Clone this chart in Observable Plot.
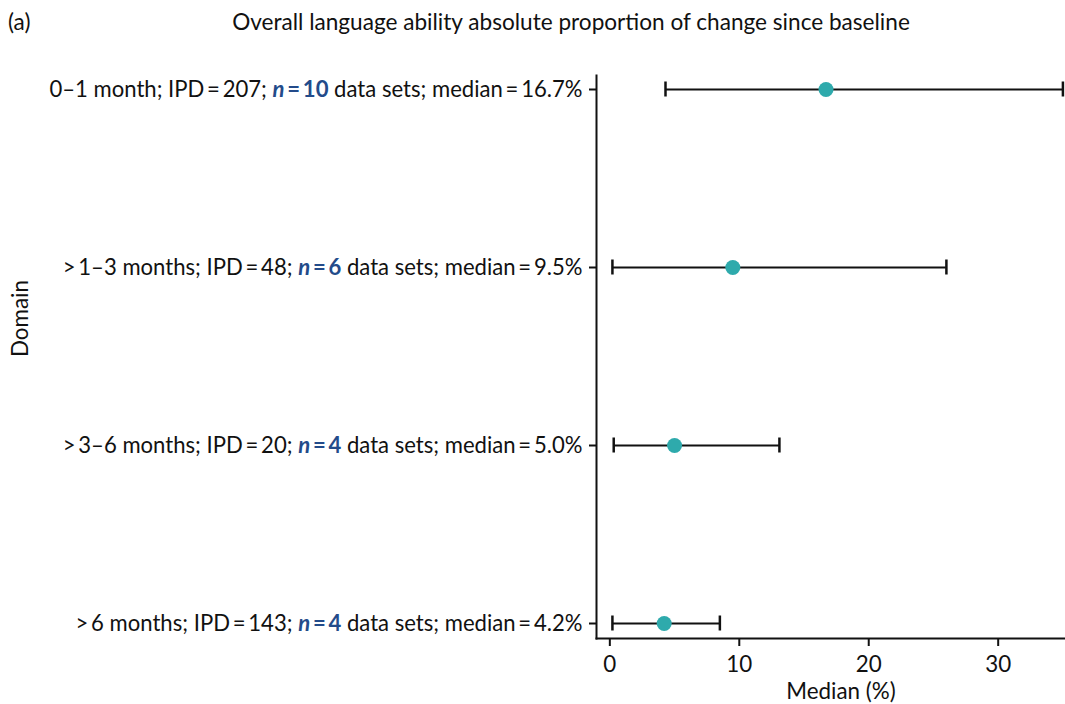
<!DOCTYPE html>
<html><head><meta charset="utf-8">
<script src="https://cdn.jsdelivr.net/npm/d3@7"></script>
<script src="https://cdn.jsdelivr.net/npm/@observablehq/plot@0.6"></script>
<style>
body{margin:0;background:#fff;font-family:Lato,sans-serif;}
#head{position:relative;height:44px;width:1065px;font-size:22.6px;color:#111;line-height:1}
#tag{position:absolute;left:8px;top:11px}
#title{position:absolute;left:0;width:1142px;text-align:center;top:11px}
#chart svg{display:block}
</style></head><body>
<div id="head"><span id="tag">(a)</span><span id="title"></span></div>
<div id="chart"></div>
<script>
const title = "Overall language ability absolute proportion of change since baseline";
const periods = ["0\u20131 month", ">\u20091\u20133 months", ">\u20093\u20136 months", ">\u20096 months"];
const ipd = [207, 48, 20, 143];
const nSets = [10, 6, 4, 4];
const medians = [16.7, 9.5, 5.0, 4.2];
const lowers = [4.3, 0.2, 0.3, 0.2];
const uppers = [35.0, 26.0, 13.1, 8.5];
const xTicks = [0, 10, 20, 30];

document.getElementById("title").textContent = title;
const rows = periods.map((p, i) => ({period: p, ipd: ipd[i], n: nSets[i], median: medians[i], lower: lowers[i], upper: uppers[i]}));
const eq = "\u2009=\u2009";
const parts = rows.map(r => [
  `${r.period}; IPD${eq}${r.ipd}; `,
  `n${eq}${r.n}`,
  ` data sets; median${eq}${r.median.toFixed(1)}%`
]);
const full = parts.map(p => p.join(""));
const fs = 22.4;

const chart = Plot.plot({
  width: 1065, height: 660,
  marginTop: 31, marginBottom: 66, marginLeft: 596, marginRight: 0,
  style: {fontFamily: "Lato, sans-serif", fontSize: fs + "px", color: "#111", background: "white"},
  x: {domain: [-1.03, 35.2]},
  y: {type: "band", domain: periods, range: [-44, 668], padding: 0},
  marks: [
    Plot.frame({anchor: "left", stroke: "#111", strokeWidth: 2}),
    Plot.frame({anchor: "bottom", stroke: "#111", strokeWidth: 2}),
    Plot.axisX({ticks: xTicks, tickSize: 8, tickPadding: 10, label: null, fontSize: fs, strokeWidth: 2}),
    Plot.axisY({tickSize: 7, tickPadding: 7, label: null, fontSize: 22.1, strokeWidth: 2,
      tickFormat: d => full[periods.indexOf(d)]}),
    Plot.text(["Median (%)"], {frameAnchor: "bottom", dx: 10, dy: 60, fontSize: fs, text: d => d}),
    Plot.text(["Domain"], {frameAnchor: "left", dx: -576, rotate: -90, fontSize: fs, text: d => d}),
    Plot.ruleY(rows, {y: "period", x1: "lower", x2: "upper", stroke: "#111", strokeWidth: 2}),
    Plot.tickX(rows, {x: "lower", y: "period", insetTop: 81.5, insetBottom: 81.5, stroke: "#111", strokeWidth: 2.5}),
    Plot.tickX(rows, {x: "upper", y: "period", insetTop: 81.5, insetBottom: 81.5, stroke: "#111", strokeWidth: 2.5}),
    Plot.dot(rows, {x: "median", y: "period", r: 7.5, fill: "#2eaaac", stroke: "none"})
  ]
});
document.getElementById("chart").appendChild(chart);

// rich tick labels
d3.select(chart).selectAll('g[aria-label="y-axis tick label"] text').each(function() {
  const t = d3.select(this);
  const i = full.indexOf(this.textContent);
  if (i < 0) return;
  t.text(null);
  t.append("tspan").text(parts[i][0]);
  t.append("tspan").attr("fill", "#234b8a").attr("font-weight", "bold").attr("font-style", "italic").text("n");
  t.append("tspan").attr("fill", "#234b8a").attr("font-weight", "bold").text(parts[i][1].slice(1));
  t.append("tspan").text(parts[i][2]);
});
</script>
</body></html>
